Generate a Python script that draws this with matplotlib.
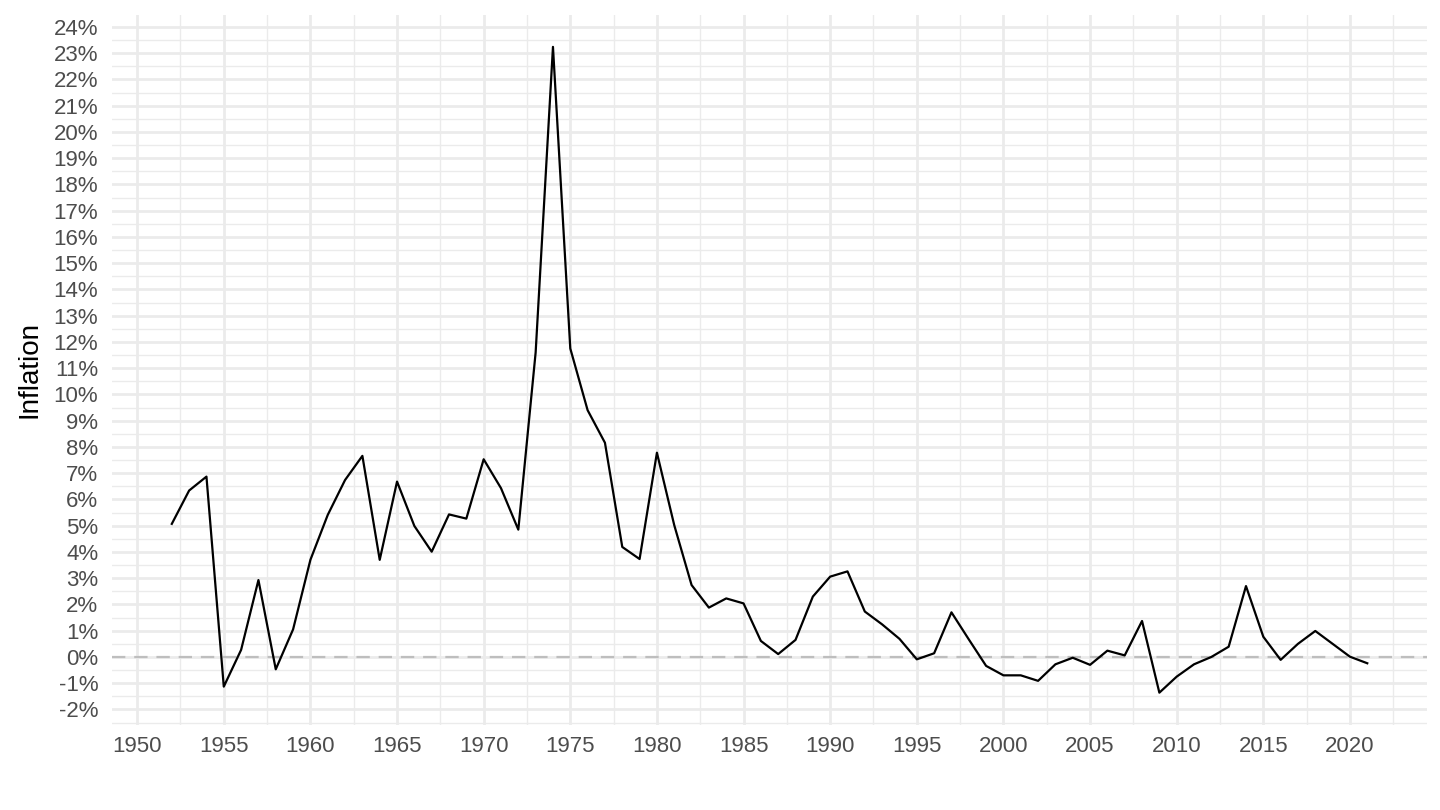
import matplotlib
matplotlib.use("Agg")
import matplotlib.pyplot as plt
import numpy as np
from matplotlib.ticker import MultipleLocator, FuncFormatter

years = list(range(1952, 2022))
inflation = [5.07, 6.34, 6.87, -1.13, 0.27, 2.93, -0.47, 1.05, 3.70, 5.41,
             6.74, 7.66, 3.70, 6.68, 4.99, 4.01, 5.43, 5.27, 7.53, 6.43,
             4.85, 11.60, 23.24, 11.75, 9.40, 8.16, 4.19, 3.73, 7.78, 5.02,
             2.74, 1.88, 2.23, 2.04, 0.61, 0.11, 0.65, 2.30, 3.06, 3.26,
             1.73, 1.24, 0.69, -0.09, 0.14, 1.70, 0.67, -0.34, -0.70, -0.70,
             -0.91, -0.28, -0.03, -0.30, 0.24, 0.06, 1.37, -1.36, -0.75, -0.28,
             0.00, 0.39, 2.70, 0.77, -0.11, 0.50, 0.99, 0.50, 0.01, -0.24]

plt.rcParams['font.family'] = ['Liberation Sans', 'DejaVu Sans']

fig = plt.figure(figsize=(14.4, 8.1), dpi=100)
ax = fig.add_axes([0.0778, 0.105, 0.991 - 0.0778, 0.982 - 0.105])

x = np.array(years, dtype=float)
y = np.array(inflation)
xr = x.max() - x.min()
yr = y.max() - y.min()
ax.set_xlim(x.min() - 0.05 * xr, x.max() + 0.05 * xr)
ax.set_ylim(y.min() - 0.05 * yr, y.max() + 0.05 * yr)

ax.xaxis.set_major_locator(MultipleLocator(5))
ax.xaxis.set_minor_locator(MultipleLocator(2.5))
ax.yaxis.set_major_locator(MultipleLocator(1))
ax.yaxis.set_minor_locator(MultipleLocator(0.5))
ax.yaxis.set_major_formatter(FuncFormatter(lambda v, p: f"{v:.0f}%"))
ax.xaxis.set_major_formatter(FuncFormatter(lambda v, p: f"{v:.0f}"))

ax.grid(which='major', color='#EBEBEB', linewidth=2.0)
ax.grid(which='minor', color='#EBEBEB', linewidth=1.0)
ax.set_axisbelow(True)
for s in ax.spines.values():
    s.set_visible(False)
ax.tick_params(which='both', length=0)
ax.tick_params(axis='y', labelsize=16, labelcolor='#4D4D4D', pad=10)
ax.tick_params(axis='x', labelsize=16, labelcolor='#4D4D4D', pad=8)

ax.axhline(0, color='#BEBEBE', linewidth=1.6, linestyle=(0, (6, 4)), zorder=2)
ax.plot(x, y, color='black', linewidth=1.6, zorder=3)

ax.set_ylabel("Inflation", fontsize=20, color='black', labelpad=8)

fig.savefig("out.png", dpi=100, facecolor='white')
